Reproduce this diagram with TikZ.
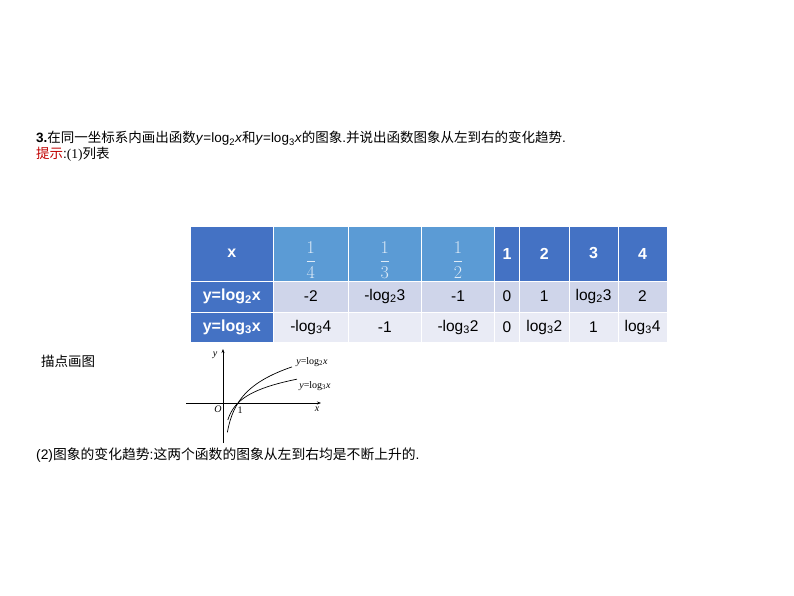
\RequirePackage{fix-cm}
\documentclass[tikz,border=0pt]{standalone}
\usepackage{fontspec}
\setmainfont{Liberation Sans}
\newfontfamily\cjk{Noto Sans CJK SC}
\newfontfamily\tms{Liberation Serif}
\usetikzlibrary{arrows.meta}
\definecolor{hdblue}{RGB}{68,114,196}
\definecolor{frblue}{RGB}{91,155,213}
\definecolor{rowa}{RGB}{207,213,234}
\definecolor{rowb}{RGB}{233,235,245}
\definecolor{frtext}{RGB}{222,235,247}
\definecolor{tipred}{RGB}{192,0,0}
\newcommand{\logsub}[1]{log\textsubscript{#1}}
\newcommand{\fr}[1]{$\displaystyle\frac{1}{#1}$}

\begin{document}
\begin{tikzpicture}[x=1pt, y=-1pt,
		line/.style={inner sep=0pt, font=\fontsize{13.5}{16}\selectfont},
		cell/.style={draw=white, line width=1pt, inner sep=0pt, text=black, font=\fontsize{15.5}{18}\selectfont},
		head/.style={cell, fill=hdblue, text=white, font=\bfseries\fontsize{16}{19}\selectfont},
		frac/.style={cell, fill=frblue},
		fractext/.style={inner sep=0pt, text=frtext, font=\fontsize{18}{21}\selectfont},
		axis/.style={line width=0.6pt, -{Stealth[length=4pt, width=3pt]}},
		curve/.style={line width=0.7pt},
		gtext/.style={inner sep=0pt, font=\tms\fontsize{10}{11}\selectfont}]
			%%%%% START %%%%%
			
			\useasboundingbox (0, 0) rectangle (794, 596);
			
			\node[line, anchor=base west] (title) at (36, 143) {\textbf{3.}{\cjk 在同一坐标系内画出函数}\textit{y}=\logsub{2}\textit{x}{\cjk 和}\textit{y}=\logsub{3}\textit{x}{\cjk 的图象}.{\cjk 并说出函数图象从左到右的变化趋势}.};
			\node[line, anchor=base west] (tip) at (36, 159) {\textcolor{tipred}{\cjk 提示}:{\tms(1)}{\cjk 列表}};
			
			\node[head, minimum width=83.5pt, minimum height=55pt] (hx) at (231.75, 253.5) {x};
			\node[frac, minimum width=74.5pt, minimum height=55pt] (hq) at (310.75, 253.5) {};
			\node[frac, minimum width=73.5pt, minimum height=55pt] (ht) at (384.75, 253.5) {};
			\node[frac, minimum width=73pt, minimum height=55pt] (hh) at (458, 253.5) {};
			\node[head, minimum width=25pt, minimum height=55pt] (h1) at (507, 253.5) {1};
			\node[head, minimum width=49.5pt, minimum height=55pt] (h2) at (544.25, 253.5) {2};
			\node[head, minimum width=49pt, minimum height=55pt] (h3) at (593.5, 253.5) {3};
			\node[head, minimum width=49pt, minimum height=55pt] (h4) at (642.5, 253.5) {4};
			\node[fractext] (fq) at (310.75, 260) {\fr{4}};
			\node[fractext] (ft) at (384.75, 260) {\fr{3}};
			\node[fractext] (fh) at (458, 260) {\fr{2}};
			
			\node[head, minimum width=83.5pt, minimum height=31pt] (ax) at (231.75, 296.5) {y=\logsub{2}x};
			\node[cell, fill=rowa, minimum width=74.5pt, minimum height=31pt] (aq) at (310.75, 296.5) {-2};
			\node[cell, fill=rowa, minimum width=73.5pt, minimum height=31pt] (at) at (384.75, 296.5) {-\logsub{2}3};
			\node[cell, fill=rowa, minimum width=73pt, minimum height=31pt] (ah) at (458, 296.5) {-1};
			\node[cell, fill=rowa, minimum width=25pt, minimum height=31pt] (a1) at (507, 296.5) {0};
			\node[cell, fill=rowa, minimum width=49.5pt, minimum height=31pt] (a2) at (544.25, 296.5) {1};
			\node[cell, fill=rowa, minimum width=49pt, minimum height=31pt] (a3) at (593.5, 296.5) {\logsub{2}3};
			\node[cell, fill=rowa, minimum width=49pt, minimum height=31pt] (a4) at (642.5, 296.5) {2};
			
			\node[head, minimum width=83.5pt, minimum height=30pt] (bx) at (231.75, 327) {y=\logsub{3}x};
			\node[cell, fill=rowb, minimum width=74.5pt, minimum height=30pt] (bq) at (310.75, 327) {-\logsub{3}4};
			\node[cell, fill=rowb, minimum width=73.5pt, minimum height=30pt] (bt) at (384.75, 327) {-1};
			\node[cell, fill=rowb, minimum width=73pt, minimum height=30pt] (bh) at (458, 327) {-\logsub{3}2};
			\node[cell, fill=rowb, minimum width=25pt, minimum height=30pt] (b1) at (507, 327) {0};
			\node[cell, fill=rowb, minimum width=49.5pt, minimum height=30pt] (b2) at (544.25, 327) {\logsub{3}2};
			\node[cell, fill=rowb, minimum width=49pt, minimum height=30pt] (b3) at (593.5, 327) {1};
			\node[cell, fill=rowb, minimum width=49pt, minimum height=30pt] (b4) at (642.5, 327) {\logsub{3}4};
			
			\node[line, anchor=base west] (sketch) at (41, 366) {\cjk 描点画图};
			
			\coordinate (xs) at (186, 403);
			\coordinate (xe) at (321, 403);
			\coordinate (ys) at (223, 443);
			\coordinate (ye) at (223, 349);
			\draw[axis] (xs) -- (xe);
			\draw[axis] (ys) -- (ye);
			
			\draw[curve] plot[domain=0.29:4.6, samples=80, smooth] ({223+15*\x}, {403-16.4*ln(\x)/ln(2)});
			\draw[curve] plot[domain=0.32:4.93, samples=80, smooth] ({223+15*\x}, {403-16.4*ln(\x)/ln(3)});
			
			\node[gtext] (ylab) at (215, 355) {\textit{y}};
			\node[gtext] (olab) at (218, 409) {\textit{O}};
			\node[gtext] (onelab) at (240, 410) {1};
			\node[gtext] (xlab) at (317, 409) {\textit{x}};
			\node[gtext] (ltwo) at (312, 362) {\textit{y}=log\textsubscript{2}\textit{x}};
			\node[gtext] (lthree) at (315, 386) {\textit{y}=log\textsubscript{3}\textit{x}};
			
			\node[line, anchor=base west, font=\fontsize{13.8}{16}\selectfont] (trend) at (36, 459) {(2){\cjk 图象的变化趋势}:{\cjk 这两个函数的图象从左到右均是不断上升的}.};
			
			%%%%% END %%%%%
		\end{tikzpicture}
\end{document}
